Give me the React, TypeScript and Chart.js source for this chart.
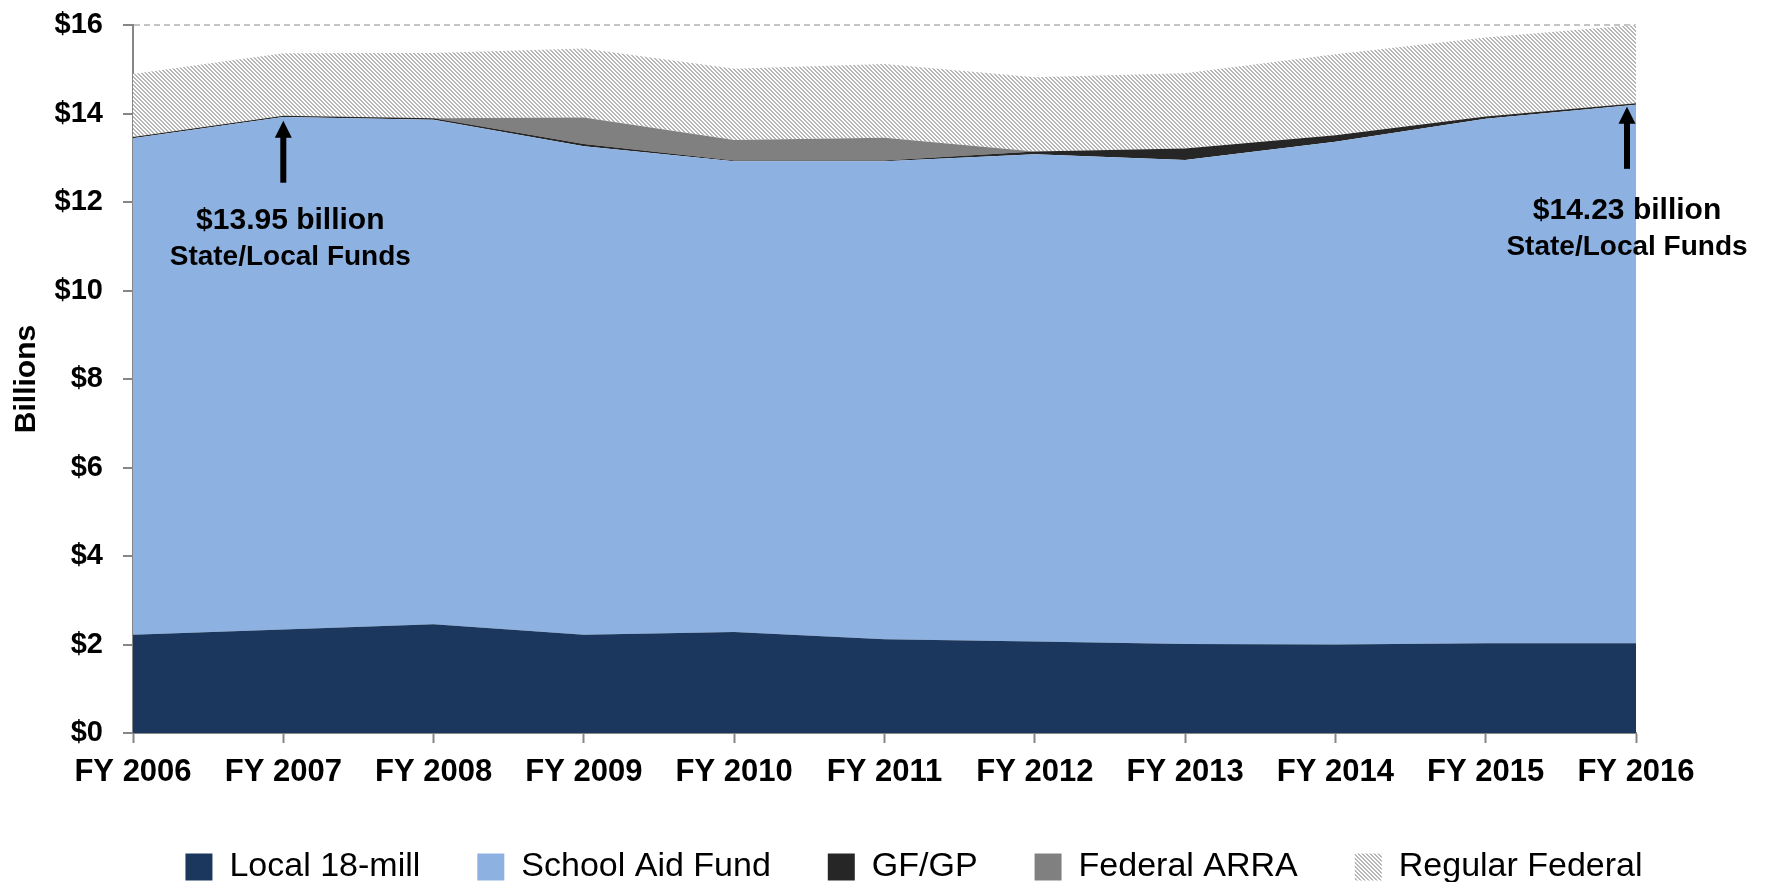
import React, { useEffect, useRef } from 'react';
import { Chart, registerables } from 'chart.js';

Chart.register(...registerables);

const categories = ['FY 2006', 'FY 2007', 'FY 2008', 'FY 2009', 'FY 2010', 'FY 2011', 'FY 2012', 'FY 2013', 'FY 2014', 'FY 2015', 'FY 2016'];
const local18Mill = [2.22, 2.34, 2.46, 2.22, 2.28, 2.12, 2.07, 2.01, 2.0, 2.03, 2.03];
const schoolAidFund = [11.22, 11.58, 11.4, 11.04, 10.64, 10.8, 11.01, 10.94, 11.36, 11.85, 12.17];
const gfGp = [0.03, 0.03, 0.03, 0.05, 0.02, 0.02, 0.06, 0.26, 0.15, 0.05, 0.03];
const federalArra = [0, 0, 0, 0.6, 0.46, 0.51, 0, 0, 0, 0, 0];
const regularFederal = [1.42, 1.41, 1.48, 1.56, 1.61, 1.67, 1.68, 1.7, 1.83, 1.79, 1.77];

const yMin = 0;
const yMax = 16;
const yStep = 2;

const annotationIndices = [1, 10];
const annotationAmounts = ['$13.95 billion', '$14.23 billion'];
const annotationSubtitle = 'State/Local Funds';

const FONT = '"Liberation Sans", Arial, Helvetica, sans-serif';

function makeHatch(): CanvasPattern | string {
  const c = document.createElement('canvas');
  c.width = 4;
  c.height = 4;
  const ctx = c.getContext('2d');
  if (!ctx) return '#d0d0d0';
  const img = ctx.createImageData(4, 4);
  for (let y = 0; y < 4; y++) {
    for (let x = 0; x < 4; x++) {
      const on = ((x - y + 8) % 4) < 2;
      const v = on ? 182 : 255;
      const i = (y * 4 + x) * 4;
      img.data[i] = v;
      img.data[i + 1] = v;
      img.data[i + 2] = v;
      img.data[i + 3] = 255;
    }
  }
  ctx.putImageData(img, 0, 0);
  return ctx.createPattern(c, 'repeat') || '#d0d0d0';
}

// layout per annotation (pixel offsets relative to data point)
const annotationLayout = [
  { dx: 0, tipGap: 5, shaft: 62, textDx: 7, line1: 108, line2: 144 },
  { dx: -9, tipGap: 3.5, shaft: 62, textDx: 0, line1: 112.5, line2: 148.5 },
];

const annotationPlugin = {
  id: 'fundAnnotations',
  afterDatasetsDraw(chart: any) {
    const { ctx } = chart;
    const x = chart.scales.x;
    const y = chart.scales.y;
    annotationIndices.forEach((idx, k) => {
      const lay = annotationLayout[k];
      const total = local18Mill[idx] + schoolAidFund[idx] + gfGp[idx];
      const px = x.getPixelForValue(idx) + lay.dx;
      const tipY = y.getPixelForValue(total) + lay.tipGap;
      ctx.save();
      ctx.fillStyle = '#000';
      ctx.fillRect(px - 3, tipY + 15, 6, lay.shaft - 15);
      ctx.beginPath();
      ctx.moveTo(px, tipY);
      ctx.lineTo(px - 8.5, tipY + 17);
      ctx.lineTo(px + 8.5, tipY + 17);
      ctx.closePath();
      ctx.fill();
      ctx.textAlign = 'center';
      ctx.textBaseline = 'alphabetic';
      ctx.font = `bold 30px ${FONT}`;
      ctx.fillText(annotationAmounts[k], px + lay.textDx, tipY + lay.line1);
      ctx.font = `bold 28px ${FONT}`;
      ctx.fillText(annotationSubtitle, px + lay.textDx, tipY + lay.line2);
      ctx.restore();
    });
  },
};

const LEGEND_HEIGHT = 89;
const LEGEND_SHIFT = 96;

const legendPlugin = {
  id: 'legendFit',
  beforeLayout(chart: any) {
    const lg = chart.legend;
    if (lg && !lg.__patched) {
      const orig = lg.fit;
      lg.fit = function () {
        orig.call(this);
        this.height = LEGEND_HEIGHT;
      };
      lg.__patched = true;
    }
  },
  afterLayout(chart: any) {
    const lg = chart.legend;
    if (lg) {
      lg.left += LEGEND_SHIFT;
      lg.right += LEGEND_SHIFT;
    }
  },
};

export default function App() {
  const canvasRef = useRef<HTMLCanvasElement>(null);

  useEffect(() => {
    const canvas = canvasRef.current;
    if (!canvas) return;
    const hatch = makeHatch();
    const ds = (label: string, data: number[], color: any, fill: any) => ({
      label,
      data,
      backgroundColor: color,
      borderColor: 'rgba(0,0,0,0)',
      borderWidth: 0,
      pointRadius: 0,
      pointHoverRadius: 0,
      tension: 0,
      fill,
    });

    const chart = new Chart(canvas, {
      type: 'line',
      data: {
        labels: categories,
        datasets: [
          ds('Local 18-mill', local18Mill, '#1B375D', 'origin'),
          ds('School Aid Fund', schoolAidFund, '#8DB2E2', '-1'),
          ds('GF/GP', gfGp, '#262626', '-1'),
          ds('Federal ARRA', federalArra, '#808080', '-1'),
          ds('Regular Federal', regularFederal, hatch, '-1'),
        ],
      },
      options: {
        responsive: false,
        animation: false,
        devicePixelRatio: 1,
        layout: { padding: { top: 25, right: 137, left: 0, bottom: 0 } },
        font: { family: FONT },
        plugins: {
          legend: {
            position: 'bottom',
            labels: {
              boxWidth: 27,
              boxHeight: 27,
              padding: 57,
              color: '#000',
              font: { size: 34, family: FONT },
              generateLabels: (c: any) =>
                (Chart.defaults.plugins.legend.labels as any)
                  .generateLabels(c)
                  .map((l: any) => ({ ...l, lineWidth: 0, strokeStyle: 'rgba(0,0,0,0)' })),
            },
          },
          tooltip: { enabled: false },
        },
        scales: {
          x: {
            type: 'category',
            offset: false,
            grid: {
              display: true,
              drawOnChartArea: false,
              drawTicks: true,
              tickLength: 10,
              color: 'rgba(0,0,0,0)',
              tickColor: '#868686',
              tickWidth: 2,
            },
            border: { display: true, color: '#868686', width: 2 },
            ticks: {
              color: '#000',
              font: { size: 31, weight: 'bold', family: FONT },
              padding: 11,
              autoSkip: false,
              maxRotation: 0,
            },
            afterFit: (s: any) => {
              s.height = 882 - LEGEND_HEIGHT - 733;
            },
          },
          y: {
            stacked: true,
            min: yMin,
            max: yMax,
            ticks: {
              stepSize: yStep,
              color: '#000',
              font: { size: 29, weight: 'bold', family: FONT },
              padding: 20,
              callback: (v: any) => '$' + v,
            },
            grid: {
              color: (ctx: any) => (ctx.tick && ctx.tick.value === yMax ? '#c4c4c4' : 'rgba(0,0,0,0)'),
              lineWidth: 2,
              drawTicks: true,
              tickLength: 10,
              tickColor: '#868686',
              tickWidth: 2,
            },
            border: { display: true, color: '#868686', width: 2, dash: [6, 4] },
            title: {
              display: true,
              text: 'Billions',
              color: '#000',
              font: { size: 30, weight: 'bold', family: FONT, lineHeight: 1 },
              padding: { top: 12, bottom: 0 },
            },
            afterFit: (s: any) => {
              s.width = 133;
              s.paddingTop = 0;
              s.paddingBottom = 0;
            },
          },
        },
      } as any,
      plugins: [legendPlugin, annotationPlugin],
    });
    return () => chart.destroy();
  }, []);

  return (
    <div style={{ position: 'fixed', left: 0, top: 0, width: 1773, height: 882, background: '#fff' }}>
      <canvas ref={canvasRef} width={1773} height={882} style={{ display: 'block', width: 1773, height: 882 }} />
    </div>
  );
}
